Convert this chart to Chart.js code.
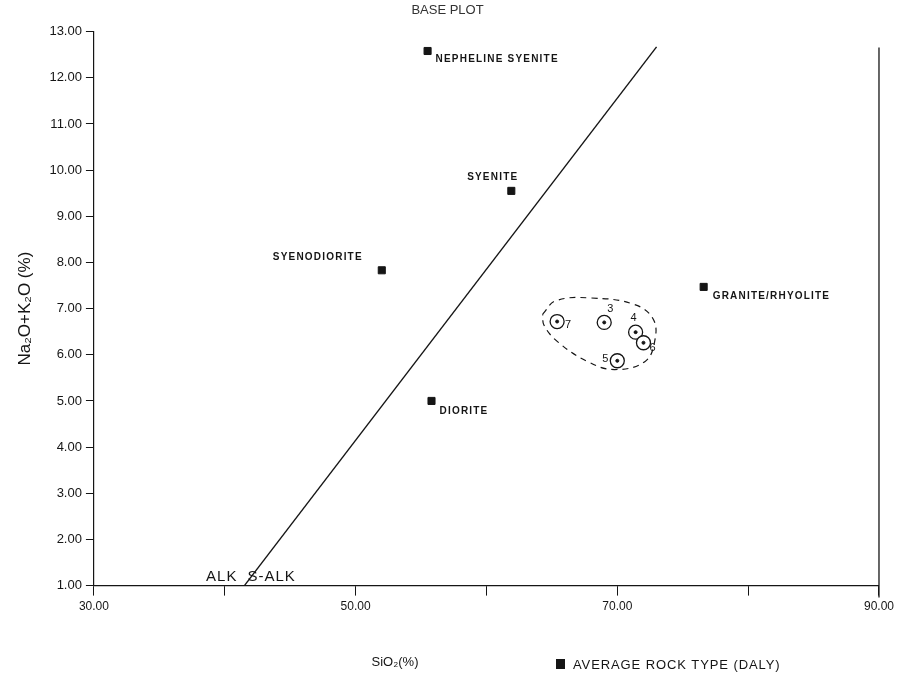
<!DOCTYPE html>
<html>
<head>
<meta charset="utf-8">
<script src="https://cdn.jsdelivr.net/npm/chart.js@4.4.0/dist/chart.umd.min.js"></script>
<style>
  html, body { margin: 0; padding: 0; background: #fff; }
  #wrap { width: 898px; height: 682px; }
</style>
</head>
<body>
<div id="wrap"><canvas id="basePlot" width="898" height="682"></canvas></div>
<script>
// average rock types (Daly)
const rockNames = ['NEPHELINE SYENITE', 'SYENITE', 'SYENODIORITE', 'DIORITE', 'GRANITE/RHYOLITE'];
const rockSiO2 = [55.5, 61.9, 52.0, 55.8, 76.6];
const rockAlkali = [12.58, 9.55, 7.83, 5.0, 7.47];

// samples (numbered circles)
const sampleIds = ['7', '3', '4', '6', '5'];
const sampleSiO2 = [65.4, 69.0, 71.4, 72.0, 70.0];
const sampleAlkali = [6.72, 6.70, 6.49, 6.26, 5.87];

// alkaline / sub-alkaline dividing line
const dividerSiO2 = [41.5, 73.0];
const dividerAlkali = [1.0, 12.67];

// dashed outline around the samples
const outlineSiO2 = [64.3, 65.3, 68.0, 71.3, 72.75, 72.85, 72.1, 69.8, 67.75, 65.45, 64.4, 64.3];
const outlineAlkali = [6.88, 7.17, 7.23, 7.09, 6.77, 6.28, 5.85, 5.68, 5.85, 6.28, 6.64, 6.88];

const xTickLabels = [30, 50, 70, 90];

const toPoints = (xs, ys) => xs.map((x, i) => ({ x: x, y: ys[i] }));

// label offsets in px (text anchor relative to point)
const rockLabelPos = [
  { dx: 8, dy: 8, align: 'left' },
  { dx: 7, dy: -14, align: 'right' },
  { dx: -19, dy: -13, align: 'right' },
  { dx: 8, dy: 10, align: 'left' },
  { dx: 9, dy: 9, align: 'left' }
];
const sampleLabelPos = [
  { dx: 11, dy: 3, align: 'center' },
  { dx: 6, dy: -13, align: 'center' },
  { dx: -2, dy: -14, align: 'center' },
  { dx: 9, dy: 5, align: 'center' },
  { dx: -12, dy: -2, align: 'center' }
];

const INK = '#151515';
const FONT = "'Liberation Sans', Arial, sans-serif";

const annotate = {
  id: 'annotate',
  afterDatasetsDraw(chart) {
    const ctx = chart.ctx;
    const area = chart.chartArea;
    const xs = chart.scales.x, ys = chart.scales.y;
    ctx.save();
    ctx.fillStyle = INK;
    ctx.textBaseline = 'middle';

    // rock type labels
    ctx.font = 'bold 10px ' + FONT;
    ctx.letterSpacing = '1.2px';
    chart.getDatasetMeta(0).data.forEach((pt, i) => {
      const p = rockLabelPos[i];
      ctx.textAlign = p.align;
      ctx.fillText(rockNames[i], pt.x + p.dx, pt.y + p.dy);
    });
    ctx.letterSpacing = '0px';

    // sample numbers
    ctx.font = '11px ' + FONT;
    chart.getDatasetMeta(2).data.forEach((pt, i) => {
      const p = sampleLabelPos[i];
      ctx.textAlign = p.align;
      ctx.fillText(sampleIds[i], pt.x + p.dx, pt.y + p.dy);
    });

    // ALK / S-ALK at the foot of the divider
    const fx = xs.getPixelForValue(dividerSiO2[0]);
    const fy = ys.getPixelForValue(dividerAlkali[0]);
    ctx.font = '15px ' + FONT;
    ctx.letterSpacing = '1px';
    ctx.textBaseline = 'bottom';
    ctx.textAlign = 'right';
    ctx.fillText('ALK', fx - 7, fy - 1);
    ctx.textAlign = 'left';
    ctx.fillText('S-ALK', fx + 3, fy - 1);

    // right frame line
    ctx.strokeStyle = INK;
    ctx.lineWidth = 1.3;
    ctx.beginPath();
    ctx.moveTo(area.right, area.top + 16);
    ctx.lineTo(area.right, area.bottom + 12);
    ctx.stroke();

    // x axis title
    ctx.letterSpacing = '0px';
    ctx.font = '13px ' + FONT;
    ctx.textAlign = 'center';
    ctx.textBaseline = 'middle';
    ctx.fillText('SiO\u2082(%)', 395, 662);

    // legend
    ctx.fillRect(556, 659, 9, 10);
    ctx.font = '13px ' + FONT;
    ctx.letterSpacing = '0.9px';
    ctx.textAlign = 'left';
    ctx.fillText('AVERAGE ROCK TYPE (DALY)', 573, 665);
    ctx.restore();
  }
};

const chart = new Chart(document.getElementById('basePlot'), {
  type: 'scatter',
  data: {
    datasets: [
      {
        label: 'AVERAGE ROCK TYPE (DALY)',
        data: toPoints(rockSiO2, rockAlkali),
        pointStyle: 'rect',
        pointRadius: 5,
        backgroundColor: INK,
        borderColor: INK
      },
      {
        label: 'Sample centres',
        data: toPoints(sampleSiO2, sampleAlkali),
        pointRadius: 1.5,
        backgroundColor: INK,
        borderColor: INK
      },
      {
        label: 'Samples',
        data: toPoints(sampleSiO2, sampleAlkali),
        pointStyle: 'circle',
        pointRadius: 7,
        borderWidth: 1.3,
        backgroundColor: '#fff',
        borderColor: INK
      },
      {
        label: 'Divider',
        data: toPoints(dividerSiO2, dividerAlkali),
        showLine: true,
        pointRadius: 0,
        borderWidth: 1.4,
        borderColor: INK
      },
      {
        label: 'Outline',
        data: toPoints(outlineSiO2, outlineAlkali),
        showLine: true,
        tension: 0.4,
        pointRadius: 0,
        borderWidth: 1.2,
        borderDash: [6, 5],
        borderColor: INK
      }
    ]
  },
  options: {
    responsive: false,
    animation: false,
    layout: { padding: { left: 15, right: 18, top: 0, bottom: 64 } },
    plugins: {
      legend: { display: false },
      tooltip: { enabled: false },
      title: {
        display: true,
        text: 'BASE PLOT',
        color: '#333',
        font: { family: FONT, size: 13, weight: 'normal' },
        padding: { top: 3, bottom: 13 }
      }
    },
    scales: {
      x: {
        min: 30,
        max: 90,
        border: { display: true, color: INK, width: 1.2 },
        grid: { drawOnChartArea: false, drawTicks: true, tickLength: 10, color: INK },
        ticks: {
          stepSize: 10,
          color: INK,
          font: { family: FONT, size: 12 },
          padding: 4,
          callback: v => xTickLabels.includes(v) ? v.toFixed(2) : ''
        }
      },
      y: {
        min: 1,
        max: 13,
        border: { display: true, color: INK, width: 1.2 },
        grid: { drawOnChartArea: false, drawTicks: true, tickLength: 8, color: INK },
        ticks: {
          stepSize: 1,
          color: INK,
          font: { family: FONT, size: 13 },
          padding: 4,
          callback: v => v.toFixed(2)
        },
        title: {
          display: true,
          text: 'Na\u2082O+K\u2082O (%)',
          color: INK,
          font: { family: FONT, size: 17 },
          padding: { top: 0, bottom: 10 }
        }
      }
    }
  },
  plugins: [annotate]
});
</script>
</body>
</html>
